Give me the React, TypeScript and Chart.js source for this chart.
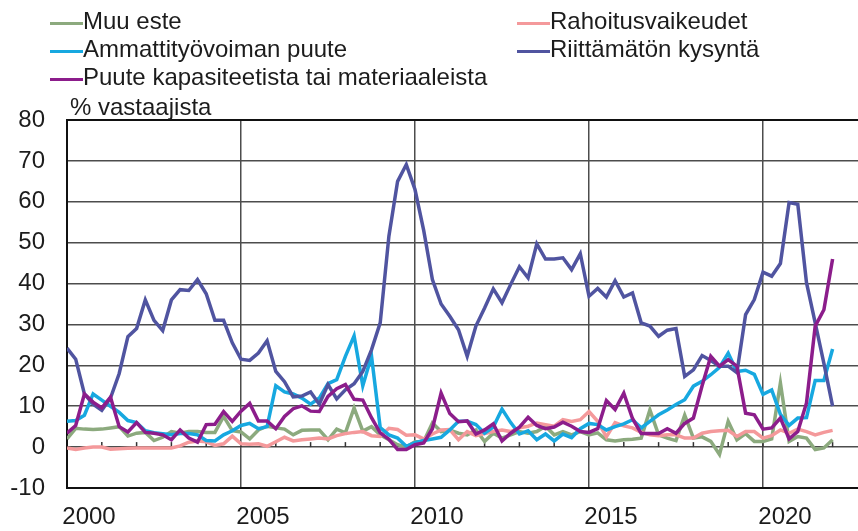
import React, { useEffect, useRef } from 'react';
import { Chart, registerables } from 'chart.js';

Chart.register(...registerables);

// Quarterly observations, 2000Q1 ... 2022Q1
const START_YEAR = 2000;
const X_MAX = 2022.73;

const muuEste = [
  2, 4.6, 4.4, 4.3, 4.4, 4.7, 5, 2.7, 3.4, 3.6, 1.6, 2.4, 3.8, 3.4, 3.8, 3.8, 3.6, 3.6, 7.5, 4,
  3.7, 2, 4.2, 5.1, 4.7, 4.4, 3, 4.1, 4.2, 4.2, 1.8, 4.4, 3.5, 9.6, 3.9, 5, 3, 1.8, 0.6, 0,
  1.3, 1.4, 5.9, 3.8, 4.2, 3.4, 3, 4.2, 1.4, 3.4, 2.2, 3, 3.8, 3.4, 3.8, 5.1, 3, 3.8, 3, 3.8,
  3, 3.5, 1.8, 1.5, 1.8, 1.9, 2.2, 9.1, 3, 2.2, 1.6, 7.8, 2.2, 2.5, 1.4, -1.8, 6.3, 1.8, 3.3, 1.4,
  1.4, 2, 15.7, 1.4, 2.6, 2.2, -0.6, -0.2, 1.8,
];

const rahoitusvaikeudet = [
  -0.2, -0.6, -0.2, 0, 0, -0.5, -0.4, -0.3, -0.2, -0.2, -0.2, -0.2, -0.2, 0.3, 1.2, 1.5, 1.3, 0.4, 0.8, 2.7,
  0.8, 0.7, 0.8, 0.2, 1.3, 2.4, 1.5, 1.8, 2, 2.2, 2, 2.8, 3.3, 3.6, 3.8, 2.8, 2.6, 4.6, 4.3, 2.9,
  3, 2, 3.2, 4.2, 4.3, 1.8, 3.8, 2.8, 3.3, 3.8, 4.2, 3.8, 4.7, 5.1, 5.9, 5.5, 5.1, 6.7, 6.3, 6.7,
  8.7, 6.3, 2.5, 6, 5.2, 4.7, 3.6, 3, 2.8, 3, 3, 2.2, 2.2, 3.4, 3.8, 4, 4.1, 2.6, 3.8, 3.8,
  2.2, 2.8, 4.2, 3.4, 4.4, 3.8, 3, 3.6, 4.1,
];

const ammattityovoima = [
  6.3, 6.5, 7.8, 13, 11.5, 10, 8.5, 6.5, 6, 4, 3.5, 3.3, 3, 3.3, 3.3, 3, 1.6, 1.5, 3, 4,
  5.3, 5.8, 4.5, 5, 15, 13.5, 13, 12, 10.5, 12, 15.5, 16.5, 22.2, 27.2, 15, 22.3, 4.8, 3, 2.2, 0.2,
  1.1, 1.6, 2, 2.4, 4.2, 6.3, 6.3, 5.5, 3.4, 4.9, 9.3, 6, 3.2, 4, 1.8, 3.2, 1.5, 3.2, 2.3, 4.5,
  5.8, 5.5, 4.2, 5, 5.7, 6.7, 4.7, 6.3, 7.9, 9.1, 10.4, 11.6, 14.9, 16.1, 17.7, 19.5, 23, 18.5, 18.8, 17.8,
  12.9, 14, 8, 5.3, 7.1, 7.2, 16.3, 16.3, 24,
];

const riittamatonKysynta = [
  24.2, 21.5, 13, 10.5, 9, 12, 18, 27, 29, 36, 31, 28.5, 36, 38.5, 38.3, 41, 37.5, 31, 31, 25.5,
  21.5, 21.2, 23, 26, 18.5, 16, 12.3, 12.5, 13.5, 10.5, 15.3, 11.8, 14, 15.5, 18.5, 23.8, 30.4, 51.6, 65, 69.1,
  63, 53, 41, 35, 32, 28.7, 22.2, 29.6, 34, 38.7, 35.3, 39.8, 44.1, 41.4, 49.7, 46, 46, 46.3, 43.4, 47.3,
  36.9, 38.8, 36.7, 40.7, 36.7, 37.7, 30.4, 29.6, 27.1, 28.6, 29, 17.3, 18.9, 22.4, 21.2, 19.8, 19.8, 18.2, 32.4, 36.1,
  42.8, 41.8, 44.9, 59.8, 59.4, 40.2, 30.4, 20.5, 10,
];

const kapasiteetti = [
  3.4, 5.3, 13, 11, 9.6, 12.2, 5, 3.7, 6, 3.6, 3.4, 3, 1.8, 4.2, 2.2, 1.2, 5.5, 5.6, 8.7, 6.3,
  8.8, 10.7, 6.4, 6.4, 4.5, 7.5, 9.4, 10.1, 8.8, 8.7, 12.4, 14.3, 15.3, 11.7, 11.5, 7.2, 3.5, 1.9, -0.6, -0.6,
  0.6, 1, 4.5, 13.2, 8.2, 6.2, 6.4, 3.2, 4.2, 5.7, 1.5, 3.4, 4.9, 7.3, 5.3, 4.5, 4.9, 6.1, 5.1, 3.8,
  3.6, 4.5, 11.4, 9.2, 13.2, 7, 3.3, 3.3, 3.3, 4.5, 3.4, 5.8, 7.1, 15, 22.2, 19.8, 21.4, 19.8, 8.3, 7.9,
  4.4, 4.7, 7.1, 2, 3.8, 10.8, 29.6, 33.6, 46,
];

const seriesLabels = [
  'Muu este',
  'Rahoitusvaikeudet',
  'Ammattityövoiman puute',
  'Riittämätön kysyntä',
  'Puute kapasiteetista tai materiaaleista',
];
const seriesColors = ['#8CAA7E', '#F4999B', '#17A8E0', '#5054A0', '#8C1D8B'];
const yTickValues = [-10, 0, 10, 20, 30, 40, 50, 60, 70, 80];
const xTickYears = [
  2000, 2001, 2002, 2003, 2004, 2005, 2006, 2007, 2008, 2009, 2010, 2011,
  2012, 2013, 2014, 2015, 2016, 2017, 2018, 2019, 2020, 2021, 2022,
];
const xLabelYears = [2000, 2005, 2010, 2015, 2020];
const yAxisTitle = '% vastaajista';

const FONT = "'Liberation Sans', Arial, sans-serif";
const TEXT = '#1c1c1c';
const GRID = '#4d4d4d';

const toPoints = (vals: number[]) =>
  vals.map((v, i) => ({ x: START_YEAR + i / 4, y: v }));

const zeroLineTicks = {
  id: 'zeroLineTicks',
  beforeDatasetsDraw(chart: any) {
    const { ctx, scales } = chart;
    const x = scales.x;
    const y = scales.y;
    const y0 = y.getPixelForValue(0);
    ctx.save();
    ctx.strokeStyle = '#333';
    ctx.lineWidth = 1.5;
    xTickYears.forEach((yr) => {
      if (yr === START_YEAR) return;
      const px = x.getPixelForValue(yr);
      ctx.beginPath();
      ctx.moveTo(px, y0);
      ctx.lineTo(px, y0 - 5);
      ctx.stroke();
    });
    ctx.restore();
  },
};

const legendLayout = [
  { idx: 0, left: 50, top: 7 },
  { idx: 1, left: 517, top: 7 },
  { idx: 2, left: 50, top: 35 },
  { idx: 3, left: 517, top: 35 },
  { idx: 4, left: 50, top: 63 },
];

export default function App() {
  const canvasRef = useRef<HTMLCanvasElement | null>(null);

  useEffect(() => {
    document.body.style.margin = '0';
    const canvas = canvasRef.current;
    if (!canvas) return;
    const seriesData = [muuEste, rahoitusvaikeudet, ammattityovoima, riittamatonKysynta, kapasiteetti];
    const datasets = seriesData
      .map((vals, i) => ({
        label: seriesLabels[i],
        data: toPoints(vals),
        borderColor: seriesColors[i],
        backgroundColor: seriesColors[i],
        borderWidth: 3.5,
        pointRadius: 0,
        tension: 0,
        fill: false,
        order: seriesData.length - i,
      }));

    const chart = new Chart(canvas, {
      type: 'line',
      data: { datasets },
      plugins: [zeroLineTicks],
      options: {
        responsive: false,
        animation: false,
        devicePixelRatio: 1,
        layout: { padding: { top: 120, right: 0, bottom: 0, left: 0 } },
        plugins: {
          legend: { display: false },
          tooltip: { enabled: false },
          title: { display: false },
        },
        scales: {
          x: {
            type: 'linear',
            min: START_YEAR,
            max: X_MAX,
            afterBuildTicks: (scale: any) => {
              scale.ticks = xTickYears.map((v) => ({ value: v }));
            },
            afterFit: (scale: any) => {
              scale.height = 43;
            },
            ticks: {
              autoSkip: false,
              maxRotation: 0,
              minRotation: 0,
              labelOffset: 22,
              padding: 15,
              color: TEXT,
              font: { family: FONT, size: 24 },
              callback: (v: any) => (xLabelYears.includes(Number(v)) ? String(v) : ''),
            },
            grid: {
              drawTicks: false,
              lineWidth: 1.5,
              color: (ctx: any) => {
                const v = ctx.tick ? ctx.tick.value : null;
                return v !== null && v % 5 === 0 && v !== START_YEAR ? GRID : 'rgba(0,0,0,0)';
              },
            },
            border: { display: true, color: '#111', width: 2 },
          },
          y: {
            min: -10,
            max: 80,
            afterBuildTicks: (scale: any) => {
              scale.ticks = yTickValues.map((v) => ({ value: v }));
            },
            afterFit: (scale: any) => {
              scale.width = 67;
            },
            ticks: {
              padding: 22,
              color: TEXT,
              font: { family: FONT, size: 24 },
            },
            grid: {
              drawTicks: false,
              color: (ctx: any) => {
                const v = ctx.tick ? ctx.tick.value : null;
                return v === 80 || v === -10 ? '#111' : GRID;
              },
              lineWidth: (ctx: any) => {
                const v = ctx.tick ? ctx.tick.value : null;
                return v === 80 || v === -10 ? 2 : 1.5;
              },
            },
            border: { display: true, color: '#111', width: 2 },
          },
        },
      },
    });
    return () => chart.destroy();
  }, []);

  return (
    <div
      style={{
        position: 'relative',
        width: 858,
        height: 531,
        overflow: 'hidden',
        background: '#fff',
        fontFamily: FONT,
        color: TEXT,
      }}
    >
      <canvas ref={canvasRef} width={858} height={531} style={{ position: 'absolute', left: 0, top: 0 }} />
      {legendLayout.map(({ idx, left, top }) => (
        <div
          key={idx}
          style={{
            position: 'absolute',
            left,
            top,
            display: 'flex',
            alignItems: 'center',
            fontSize: 24,
            lineHeight: '28px',
            whiteSpace: 'nowrap',
          }}
        >
          <span
            style={{
              display: 'inline-block',
              width: 33,
              height: 3,
              background: seriesColors[idx],
              marginTop: 4,
            }}
          />
          <span>{seriesLabels[idx]}</span>
        </div>
      ))}
      <div
        style={{
          position: 'absolute',
          left: 70,
          top: 93,
          fontSize: 24,
          lineHeight: '28px',
          whiteSpace: 'nowrap',
        }}
      >
        {yAxisTitle}
      </div>
    </div>
  );
}
